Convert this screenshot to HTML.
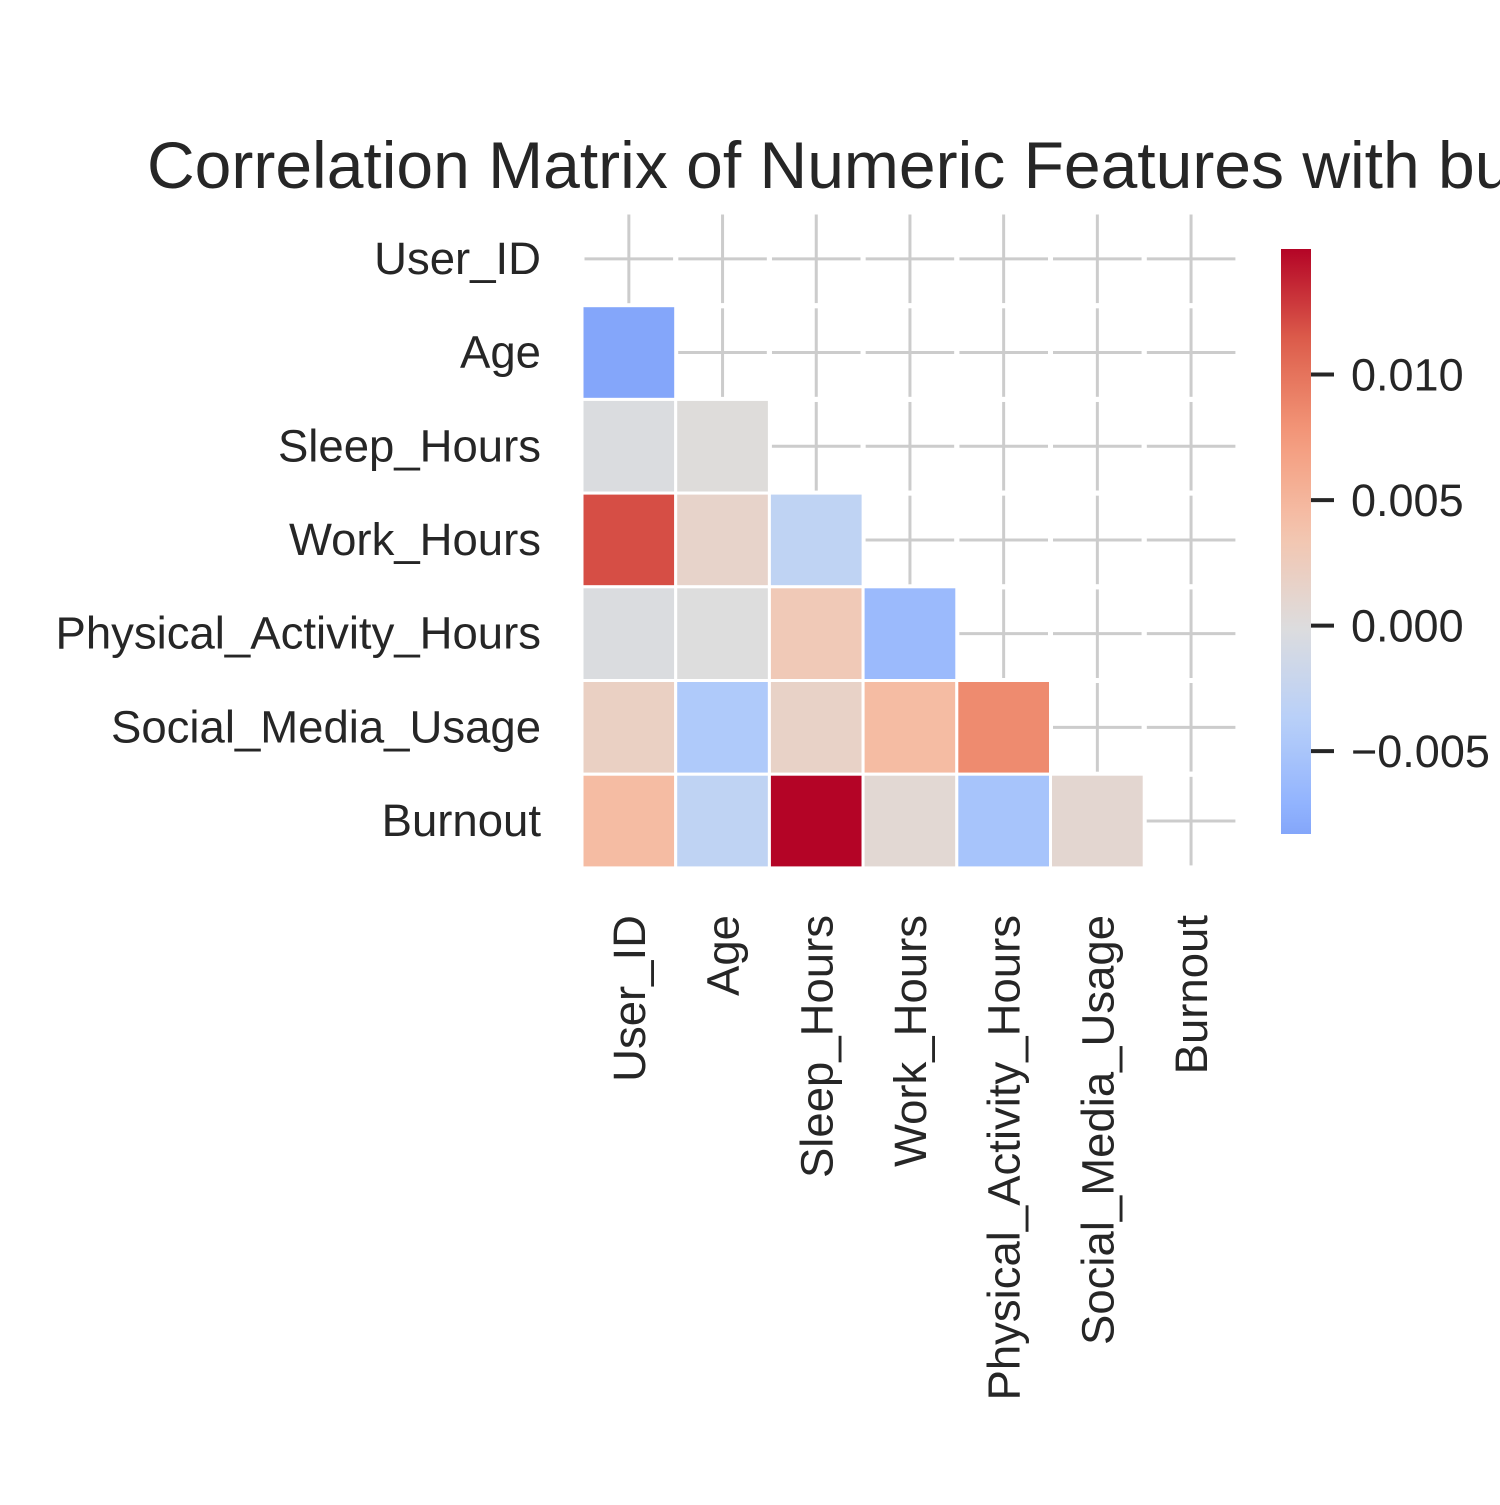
<!DOCTYPE html>
<html><head><meta charset="utf-8"><style>
body{margin:0;background:#fff;overflow:hidden;}
svg text{font-family:"Liberation Sans",Arial,sans-serif;fill:#262626;}
</style></head><body>
<svg id="chart" width="1500" height="1500" viewBox="0 0 1500 1500" xmlns="http://www.w3.org/2000/svg">
<rect width="1500" height="1500" fill="#fff"/>
<text x="147" y="188" font-size="66">Correlation Matrix of Numeric Features with burnout</text>
<g id="grid"></g>
<g id="cells"></g>
<g id="ylabels"></g>
<g id="xlabels"></g>
<defs><linearGradient id="cbgrad" x1="0" y1="1" x2="0" y2="0"></linearGradient></defs>
<rect id="cbar" x="1281" y="249" width="30" height="585" fill="url(#cbgrad)"/>
<g id="cbticks"></g>
</svg>
<script>
const categories = ["User_ID","Age","Sleep_Hours","Work_Hours","Physical_Activity_Hours","Social_Media_Usage","Burnout"];
// lower-triangle values, row i has i entries
const corrRows = [
  [],
  [-0.0083],
  [-0.0003, 0.0002],
  [0.0120, 0.0015, -0.0030],
  [-0.0003, 0.0000, 0.0030, -0.0063],
  [0.0020, -0.0045, 0.0017, 0.0045, 0.0085],
  [0.0045, -0.0030, 0.0150, 0.0008, -0.0052, 0.0010]
];
const cbTickValues = [-0.005, 0, 0.005, 0.010];
const cbTickLabels = ["\u22120.005","0.000","0.005","0.010"];

(function(){
const NS="http://www.w3.org/2000/svg";
const gx0=582, gy0=212, cw=93.7, ch=93.7, n=categories.length;
let vmin=Infinity, vmax=-Infinity;
corrRows.forEach(r=>r.forEach(v=>{vmin=Math.min(vmin,v);vmax=Math.max(vmax,v);}));
const half=Math.max(Math.abs(vmin),Math.abs(vmax));
const stops=[[0,[59,76,192]],[0.125,[98,130,234]],[0.25,[141,176,254]],[0.375,[184,208,249]],[0.5,[221,221,221]],[0.625,[245,196,173]],[0.75,[244,154,123]],[0.875,[222,96,77]],[1,[180,4,38]]];
function cmap(t){t=Math.max(0,Math.min(1,t));for(let i=1;i<stops.length;i++){if(t<=stops[i][0]){const a=stops[i-1],b=stops[i];const f=(t-a[0])/(b[0]-a[0]);const c=a[1].map((v,k)=>Math.round(v+(b[1][k]-v)*f));return 'rgb('+c.join(',')+')';}}return 'rgb(180,4,38)';}
function color(v){return cmap((v+half)/(2*half));}
function xPos(j){return gx0+j*cw;}
function yPos(i){return gy0+i*ch;}
function mk(tag,attrs,parent){const e=document.createElementNS(NS,tag);for(const k in attrs)e.setAttribute(k,attrs[k]);parent.appendChild(e);return e;}

const grid=document.getElementById('grid');
for(let k=0;k<n;k++){
  const g1=mk('line',{x1:gx0,x2:gx0+n*cw,y1:yPos(k)+ch/2,y2:yPos(k)+ch/2,stroke:'#cccccc','stroke-width':3},grid);
  
  
  const g2=mk('line',{x1:xPos(k)+cw/2,x2:xPos(k)+cw/2,y1:gy0+2,y2:gy0+n*ch,stroke:'#cccccc','stroke-width':3},grid);
  
  
}
for(let i=0;i<n;i++)for(let j=i;j<n;j++){
  const r=mk('rect',{x:xPos(j),y:yPos(i),width:cw,height:ch,fill:'none',stroke:'#fff','stroke-width':5},grid);
  
  
}
const cells=document.getElementById('cells');
corrRows.forEach((row,i)=>row.forEach((v,j)=>{
  const r=mk('rect',{x:xPos(j),y:yPos(i),width:cw,height:ch,fill:color(v),stroke:'#fff','stroke-width':3},cells);
  
  
}));
const yl=document.getElementById('ylabels'), xl=document.getElementById('xlabels');
categories.forEach((c,i)=>{
  const t=mk('text',{x:541,y:yPos(i)+ch/2+15,'font-size':45.5,'text-anchor':'end'},yl);
  t.textContent=c;
  
  
  const cx=xPos(i)+cw/2+16;
  const u=mk('text',{x:cx,y:915,'font-size':45.5,'text-anchor':'end',transform:'rotate(-90 '+cx+' 915)'},xl);
  u.textContent=c;
  
  
});
const grad=document.getElementById('cbgrad');
for(let k=0;k<=20;k++){const v=vmin+(vmax-vmin)*k/20;mk('stop',{offset:(k/20),'stop-color':color(v)},grad);}
const cbTop=249,cbH=585;
function cbY(v){return cbTop+cbH*(vmax-v)/(vmax-vmin);}
const cbt=document.getElementById('cbticks');
cbTickValues.forEach((v,k)=>{
  const y=cbY(v);
  const l=mk('line',{x1:1311,x2:1334,y1:y,y2:y,stroke:'#262626','stroke-width':4},cbt);
  
  
  const t=mk('text',{x:1351,y:y+16,'font-size':45},cbt);
  t.textContent=cbTickLabels[k];
  
  
});
})();
</script>
</body></html>
